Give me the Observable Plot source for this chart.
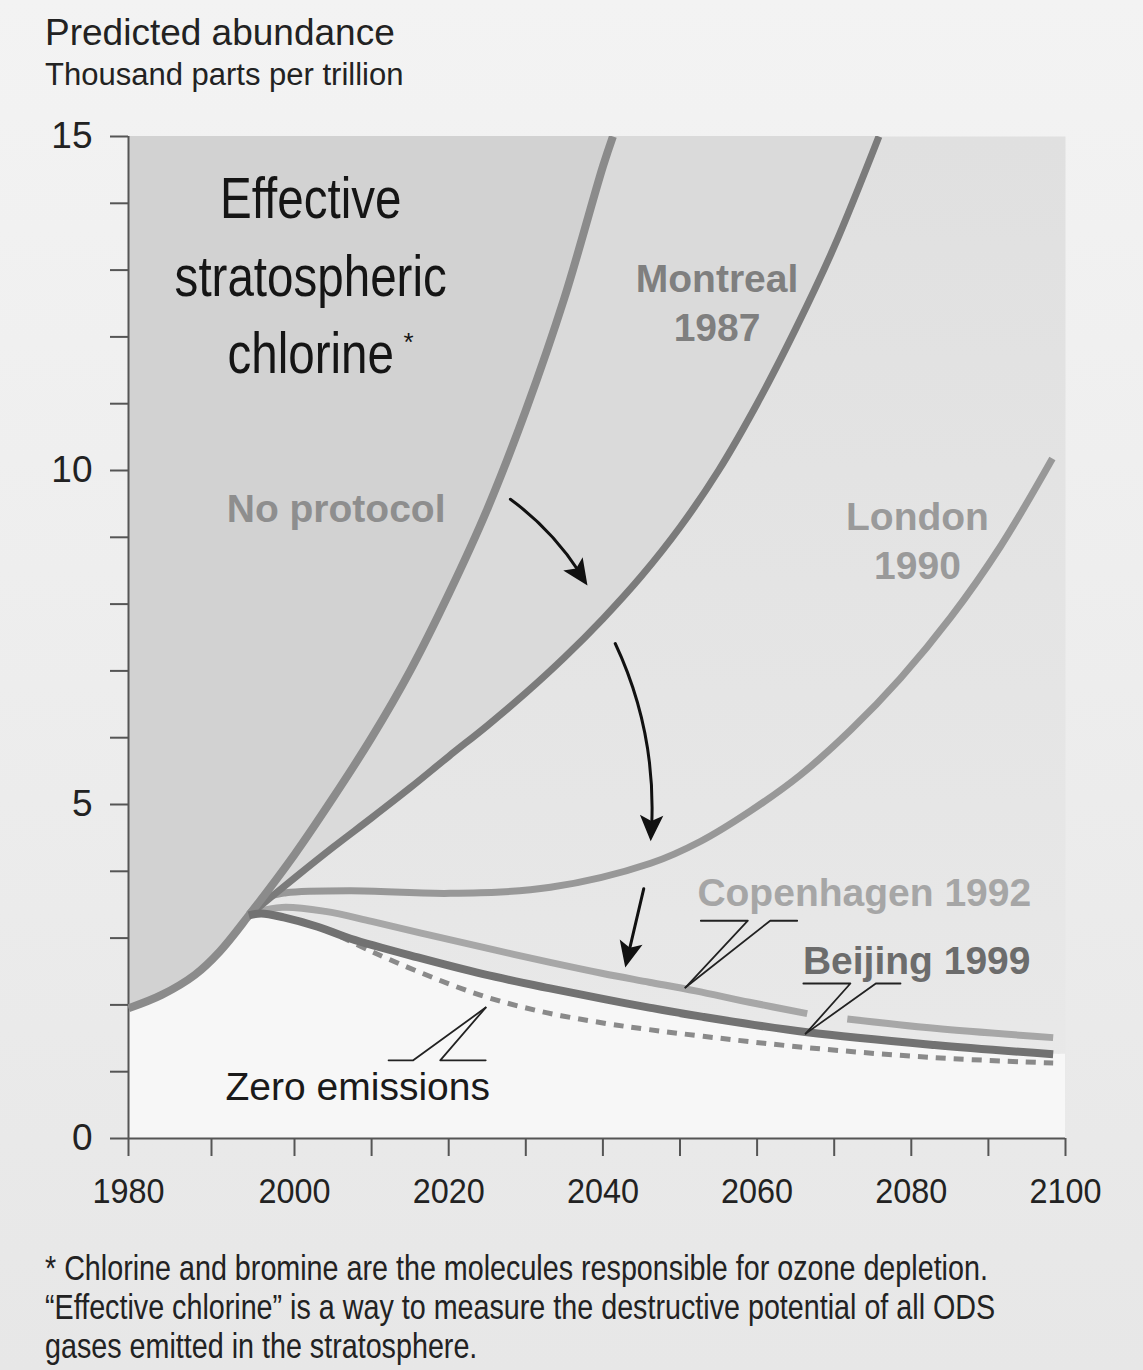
<!DOCTYPE html>
<html><head><meta charset="utf-8">
<script src="https://cdn.jsdelivr.net/npm/d3@7"></script>
<script src="https://cdn.jsdelivr.net/npm/@observablehq/plot@0.6"></script>
<style>
html,body{margin:0;padding:0;}
body{width:1143px;height:1370px;background:linear-gradient(#f3f3f3,#e7e7e7);font-family:"Liberation Sans",Arial,sans-serif;position:relative;overflow:hidden;}
#title{position:absolute;left:45px;top:14px;font-size:37px;line-height:37px;color:#222;white-space:nowrap;}
#subtitle{position:absolute;left:45px;top:59px;font-size:31px;line-height:31px;color:#222;white-space:nowrap;}
#chart{position:absolute;left:0;top:120px;}
#caption{position:absolute;left:45px;top:1248px;font-size:35px;line-height:39px;color:#222;transform:scaleX(0.82);transform-origin:0 0;white-space:nowrap;}
</style></head><body>
<div id="title">Predicted abundance</div>
<div id="subtitle">Thousand parts per trillion</div>
<div id="chart"></div>
<div id="caption">* Chlorine and bromine are the molecules responsible for ozone depletion.<br>“Effective chlorine” is a way to measure the destructive potential of all ODS<br>gases emitted in the stratosphere.</div>
<script>
// ---- Data (thousand ppt) ----
const noProtocolYears  = [1980, 1984, 1988, 1991, 1994.5, 2000, 2005, 2010, 2015, 2020, 2025, 2030, 2035, 2040, 2041.3];
const noProtocolValues = [1.95, 2.15, 2.45, 2.80, 3.34, 4.25, 5.10, 6.00, 7.00, 8.15, 9.42, 10.90, 12.58, 14.55, 15.0];

const montrealYears  = [1994.5, 2000, 2005, 2010, 2015, 2020, 2025, 2030, 2035, 2040, 2045, 2050, 2055, 2060, 2065, 2070, 2075.8];
const montrealValues = [3.34, 3.90, 4.36, 4.80, 5.25, 5.72, 6.18, 6.67, 7.20, 7.78, 8.42, 9.15, 10.0, 11.0, 12.12, 13.35, 15.0];

const londonYears  = [1994.5, 1997, 1999, 2007.3, 2020.2, 2033.2, 2046.2, 2052.7, 2059.1, 2065.6, 2072.1, 2078.6, 2085.1, 2091.6, 2098.3];
const londonValues = [3.36, 3.62, 3.68, 3.71, 3.67, 3.76, 4.12, 4.45, 4.90, 5.44, 6.11, 6.89, 7.80, 8.87, 10.18];

const copenhagenYears  = [1994.5, 1998.5, 2004, 2010, 2017, 2024.5, 2033, 2040, 2046, 2052, 2059, 2066.5, 2069, 2071.7, 2083, 2098.4];
const copenhagenValues = [3.36, 3.46, 3.40, 3.25, 3.06, 2.86, 2.64, 2.47, 2.34, 2.21, 2.04, 1.87, null, 1.79, 1.65, 1.51];

const beijingYears  = [1994.5, 1996, 1998.7, 2003, 2007.3, 2016, 2024.5, 2033, 2040, 2046, 2053, 2066.5, 2083, 2098.4];
const beijingValues = [3.34, 3.37, 3.31, 3.17, 2.99, 2.71, 2.46, 2.25, 2.09, 1.96, 1.82, 1.59, 1.40, 1.26];

const zeroYears  = [2006, 2010, 2016, 2024, 2032, 2040, 2046, 2053, 2066.5, 2083, 2098.4];
const zeroValues = [3.02, 2.80, 2.50, 2.15, 1.90, 1.73, 1.63, 1.53, 1.36, 1.21, 1.13];

// tick labels
const xTicks = [1980, 1990, 2000, 2010, 2020, 2030, 2040, 2050, 2060, 2070, 2080, 2090, 2100];
const xTickLabels = ["1980", "", "2000", "", "2020", "", "2040", "", "2060", "", "2080", "", "2100"];
const yTicks = [0,1,2,3,4,5,6,7,8,9,10,11,12,13,14,15];
const yTickLabels = ["0","","","","","5","","","","","10","","","","","15"];

// annotation texts and anchors (data units)
const labelTexts  = ["Effective\nstratospheric\nchlorine", "*", "No protocol", "Montreal\n1987", "London\n1990", "Copenhagen 1992", "Beijing 1999", "Zero emissions"];
const labelYears  = [2002.1, 2014.8, 2005.4, 2054.8, 2080.8, 2073.9, 2080.7, 2008.2];
const labelValues = [12.99, 11.92, 9.47, 12.54, 8.97, 3.72, 2.70, 0.756];

// arrows (data units)
const arrowStartYears  = [2028.0, 2041.6, 2045.3];
const arrowStartValues = [9.57, 7.41, 3.74];
const arrowEndYears    = [2038.0, 2046.2, 2042.9];
const arrowEndValues   = [8.28, 4.45, 2.56];
const arrowBends       = [12, 15, 0];
const arrowHeadAngles  = [146, 182, 193];

// leader lines for labels
const leaderIds    = ["c1","c1","c1","c2","c2","c2","b1","b1","b1","b2","b2","b2","z1","z1","z1","z2","z2","z2"];
const leaderYears  = [2052.7,2058.8,2050.7, 2065.2,2061.7,2050.7, 2066.0,2072.1,2066.3, 2078.6,2075.4,2066.3, 2012.2,2015.4,2024.8, 2024.8,2018.9,2024.8];
const leaderValues = [3.26,3.26,2.26, 3.26,3.26,2.26, 2.32,2.32,1.57, 2.32,2.32,1.57, 1.17,1.17,1.96, 1.17,1.17,1.96];

// ---- build tables ----
const rows = (ys, vs) => ys.map((year, i) => ({year, value: vs[i] == null ? NaN : vs[i]}));
const noProtocol = rows(noProtocolYears, noProtocolValues);
const montreal = rows(montrealYears, montrealValues);
const london = rows(londonYears, londonValues);
const copenhagen = rows(copenhagenYears, copenhagenValues);
const beijing = rows(beijingYears, beijingValues);
const zero = rows(zeroYears, zeroValues);
const lower = noProtocol.filter(d => d.year < beijingYears[0]).concat(beijing);
lower.push({year: xTicks[xTicks.length - 1], value: lower[lower.length - 1].value});
const labels = labelTexts.map((text, i) => ({text, year: labelYears[i], value: labelValues[i]}));
const arrows = arrowStartYears.map((x1, i) => ({x1, y1: arrowStartValues[i], x2: arrowEndYears[i], y2: arrowEndValues[i], bend: arrowBends[i], angle: arrowHeadAngles[i]}));
const leaders = leaderIds.map((id, i) => ({id, year: leaderYears[i], value: leaderValues[i]}));

const curve = "catmull-rom";
const lineOpts = {x: "year", y: "value", curve, strokeWidth: 8, strokeLinecap: "butt", clip: true};

const arrowHead = {
  draw(ctx, size) {
    const L = Math.sqrt(size / Math.PI);
    ctx.moveTo(0, 0);
    ctx.lineTo(-0.45 * L, L);
    ctx.lineTo(0, 0.78 * L);
    ctx.lineTo(0.45 * L, L);
    ctx.closePath();
  }
};

const boldLabel = (i, fill) => Plot.text([labels[i]], {x: "year", y: "value", text: "text", fontSize: 39, fontWeight: "bold", fill, textAnchor: "middle", lineHeight: 1.256});

const chart = Plot.plot({
  width: 1143, height: 1100,
  marginLeft: 128, marginRight: 78, marginTop: 16, marginBottom: 82,
  style: {fontFamily: '"Liberation Sans", Arial, sans-serif', background: "transparent", overflow: "visible"},
  x: {type: "linear", domain: [1980, 2000, 2100], range: [128, 294, 1065]},
  y: {domain: [0, 15]},
  marks: [
    Plot.frame({fill: "url(#plotbg)", stroke: "none"}),
    Plot.areaY(montreal, {x: "year", y1: "value", y2: 15, curve, fill: "#dadada", clip: true}),
    Plot.areaY(noProtocol, {x: "year", y1: "value", y2: 15, curve, fill: "#d2d2d2", clip: true}),
    Plot.areaY(lower, {x: "year", y1: 0, y2: "value", curve, fill: "#f7f7f7"}),
    Plot.ruleX([xTicks[0]], {stroke: "#555", strokeWidth: 2}),
    Plot.ruleY([0], {stroke: "#555", strokeWidth: 2}),
    Plot.axisY({ticks: yTicks, tickSize: 18, tickPadding: 18, tickFormat: d => yTickLabels[yTicks.indexOf(d)], fontSize: 37, color: "#222", stroke: "#555", strokeWidth: 2, label: null}),
    Plot.axisX({ticks: xTicks, tickSize: 18, tickPadding: 21, tickFormat: d => xTickLabels[xTicks.indexOf(d)], fontSize: 36, color: "#222", stroke: "#555", strokeWidth: 2, label: null}),
    Plot.line(london, {...lineOpts, stroke: "#989898", strokeWidth: 7}),
    Plot.line(copenhagen, {...lineOpts, stroke: "#a7a7a7", strokeWidth: 7}),
    Plot.line(montreal, {...lineOpts, stroke: "#7b7b7b", strokeWidth: 7}),
    Plot.line(noProtocol, {...lineOpts, stroke: "#8b8b8b"}),
    Plot.line(zero, {...lineOpts, stroke: "#8a8a8a", strokeWidth: 5, strokeDasharray: "10,8"}),
    Plot.line(beijing, {...lineOpts, stroke: "#727272"}),
    Plot.line(leaders, {x: "year", y: "value", z: "id", stroke: "#222", strokeWidth: 1.8, curve: "linear"}),
    ...arrows.map(a => Plot.arrow([a], {x1: "x1", y1: "y1", x2: "x2", y2: "y2", bend: a.bend, headLength: 0, stroke: "#111", strokeWidth: 3, insetEnd: 16})),
    Plot.dot(arrows, {x: "x2", y: "y2", r: 26, rotate: "angle", symbol: arrowHead, fill: "#111", stroke: "none"}),
    Plot.text([labels[0]], {x: "year", y: "value", text: "text", fontSize: 58, fill: "#151515", textAnchor: "middle", lineHeight: 1.34}),
    Plot.text([labels[1]], {x: "year", y: "value", text: "text", fontSize: 26, fill: "#151515", textAnchor: "middle"}),
    boldLabel(2, "#8e8e8e"),
    boldLabel(3, "#7f7f7f"),
    boldLabel(4, "#9a9a9a"),
    boldLabel(5, "#a6a6a6"),
    boldLabel(6, "#6c6c6c"),
    Plot.text([labels[7]], {x: "year", y: "value", text: "text", fontSize: 39, fill: "#1a1a1a", textAnchor: "middle"})
  ]
});

const ns = "http://www.w3.org/2000/svg";
const defs = document.createElementNS(ns, "defs");
defs.innerHTML = '<linearGradient id="plotbg" x1="0" y1="0" x2="0" y2="1"><stop offset="0" stop-color="#e0e0e0"/><stop offset="1" stop-color="#e9e9e9"/></linearGradient>';
chart.insertBefore(defs, chart.firstChild);

// condensed look for the big label and the x tick labels
chart.querySelectorAll("text").forEach(t => {
  if (t.textContent.startsWith("Effective")) {
    t.setAttribute("transform", (t.getAttribute("transform") || "") + " scale(0.82,1)");
  }
});
chart.querySelectorAll('g[aria-label="x-axis tick label"] text').forEach(t => {
  t.setAttribute("transform", (t.getAttribute("transform") || "") + " scale(0.9,1)");
});

document.getElementById("chart").appendChild(chart);
</script>
</body></html>
